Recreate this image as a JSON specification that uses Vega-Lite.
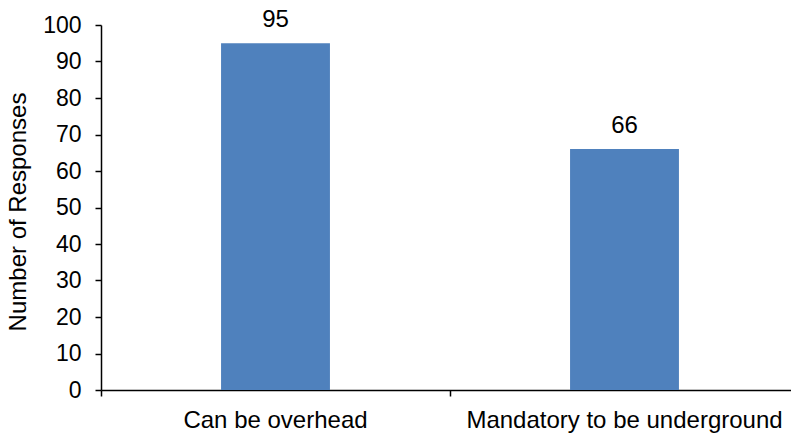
{
  "$schema": "https://vega.github.io/schema/vega-lite/v6.json",
  "width": 690,
  "height": 365,
  "autosize": {"type": "none"},
  "padding": {"left": 101, "top": 25, "right": 0, "bottom": 43},
  "background": "white",
  "config": {
    "view": {"stroke": null},
    "font": "Liberation Sans",
    "axis": {"grid": false, "domainColor": "black", "tickColor": "black", "labelColor": "black", "titleColor": "black", "labelFont": "Liberation Sans", "titleFont": "Liberation Sans", "labelFontSize": 24, "titleFontSize": 24, "titleFontWeight": "normal", "domainWidth": 1.5, "tickWidth": 1.5}
  },
  "data": {
    "values": [
      {"category": "Can be overhead", "responses": 95},
      {"category": "Mandatory to be underground", "responses": 66}
    ]
  },
  "encoding": {
    "x": {
      "field": "category",
      "type": "nominal",
      "sort": null,
      "scale": {"paddingInner": 0, "paddingOuter": 0, "range": [0, 698]},
      "axis": {"title": null, "labelAngle": 0, "bandPosition": 0, "tickSize": 6, "labelPadding": 12, "labelLimit": 500}
    },
    "y": {
      "field": "responses",
      "type": "quantitative",
      "scale": {"domain": [0, 100]},
      "axis": {"title": "Number of Responses", "values": [0,10,20,30,40,50,60,70,80,90,100], "tickSize": 6, "labelPadding": 14, "labelFontSize": 23, "titleAngle": -90, "titleX": -75.5, "titleY": 186.5, "titleAlign": "center", "titleBaseline": "alphabetic"}
    }
  },
  "layer": [
    {"mark": {"type": "bar", "color": "#4f81bd", "width": {"band": 0.312}}},
    {"mark": {"type": "text", "fontSize": 24, "color": "black", "dy": -16, "baseline": "alphabetic"}, "encoding": {"text": {"field": "responses", "type": "quantitative"}}}
  ]
}
